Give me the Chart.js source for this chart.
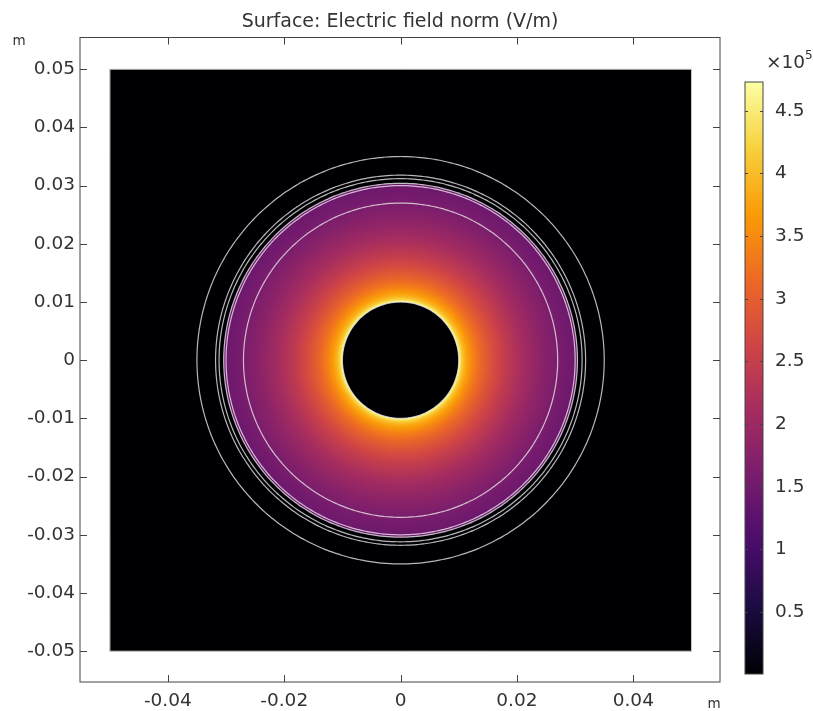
<!DOCTYPE html>
<html>
<head>
<meta charset="utf-8">
<style>
html, body { margin: 0; padding: 0; background: #fff; }
#wrap { position: relative; width: 813px; height: 711px; overflow: hidden; }
canvas { position: absolute; top: 0; }
#plot { left: 0; }
#bar { left: 700px; }
</style>
<script src="https://cdn.jsdelivr.net/npm/chart.js@4/dist/chart.umd.js"></script>
</head>
<body>
<div id="wrap">
<canvas id="plot" width="813" height="711"></canvas>
<canvas id="bar" width="113" height="711"></canvas>
</div>
<script>
const titleText = 'Surface: Electric field norm (V/m)';
const xTickValues = [-0.04, -0.02, 0, 0.02, 0.04];
const yTickValues = [-0.05, -0.04, -0.03, -0.02, -0.01, 0, 0.01, 0.02, 0.03, 0.04, 0.05];
const barTickValues = [0.5, 1, 1.5, 2, 2.5, 3, 3.5, 4, 4.5];

// geometry of the model, metres
const ringRadii = [0.01, 0.027, 0.03, 0.0304, 0.0312, 0.0318, 0.035];
const domainCorners = [[-0.05, -0.05], [0.05, -0.05], [0.05, 0.05], [-0.05, 0.05], [-0.05, -0.05]];
const holeRadius = 0.01;

// field norm along a radius, in 1e5 V/m
const fieldRadii = [0.0100, 0.0105, 0.0110, 0.0115, 0.0120, 0.0125, 0.0130, 0.0135, 0.0140, 0.0145, 0.0150,
    0.0155, 0.0160, 0.0165, 0.0170, 0.0175, 0.0180, 0.0185, 0.0190, 0.0195, 0.0200,
    0.0205, 0.0210, 0.0215, 0.0220, 0.0225, 0.0230, 0.0235, 0.0240, 0.0245, 0.0250,
    0.0255, 0.0260, 0.0265, 0.0270, 0.0275, 0.0280, 0.0285, 0.0290, 0.0295, 0.0300, 0.0304];
const fieldValues = [4.70, 4.20, 3.90, 3.72, 3.56, 3.42, 3.30, 3.19, 3.09, 3.00, 2.91,
    2.83, 2.75, 2.67, 2.60, 2.53, 2.46, 2.40, 2.34, 2.28, 2.22,
    2.16, 2.11, 2.06, 2.01, 1.96, 1.92, 1.87, 1.83, 1.79, 1.75,
    1.71, 1.68, 1.64, 1.61, 1.58, 1.55, 1.52, 1.50, 1.48, 1.46, 1.44];

const barMin = 0.005;
const barMax = 4.73;
const colorStops = ['#000004', '#1b0c41', '#4a0c6b', '#781c6d', '#a52c60', '#cf4446', '#ed6925', '#fb9b06', '#f7d13d', '#fcffa4'];

const textColor = '#333';
const frameColor = '#444';
const ringColor = 'rgba(235,235,235,0.78)';
const tickFont = { family: 'DejaVu Sans', size: 18.5 };

function hexToRgb(hex) {
    return [1, 3, 5].map(i => parseInt(hex.substr(i, 2), 16));
}

function colorFor(value) {
    const t = Math.min(1, Math.max(0, (value - barMin) / (barMax - barMin))) * (colorStops.length - 1);
    const i = Math.min(colorStops.length - 2, Math.floor(t));
    const a = hexToRgb(colorStops[i]);
    const b = hexToRgb(colorStops[i + 1]);
    const c = a.map((v, k) => Math.round(v + (b[k] - v) * (t - i)));
    return 'rgb(' + c.join(',') + ')';
}

function circlePoints(r) {
    const pts = [];
    for (let deg = 0; deg <= 360; deg += 1) {
        const a = deg * Math.PI / 180;
        pts.push({ x: r * Math.cos(a), y: r * Math.sin(a) });
    }
    return pts;
}

function fieldGradient(chart) {
    const sx = chart.scales.x;
    const sy = chart.scales.y;
    const cx = sx.getPixelForValue(0);
    const cy = sy.getPixelForValue(0);
    const rPx = r => sx.getPixelForValue(r) - cx;
    const inner = fieldRadii[0];
    const outer = fieldRadii[fieldRadii.length - 1];
    const g = chart.ctx.createRadialGradient(cx, cy, rPx(inner), cx, cy, rPx(outer));
    fieldRadii.forEach((r, i) => {
        g.addColorStop((r - inner) / (outer - inner), colorFor(fieldValues[i]));
    });
    return g;
}

function barGradient(chart) {
    const s = chart.scales.y;
    const g = chart.ctx.createLinearGradient(0, s.getPixelForValue(barMin), 0, s.getPixelForValue(barMax));
    const steps = 60;
    for (let i = 0; i <= steps; i++) {
        g.addColorStop(i / steps, colorFor(barMin + (barMax - barMin) * i / steps));
    }
    return g;
}

// first dataset is on top, so rings go first and the black square last
// tension keeps chart.js off its fast path, which makes steep arcs jagged
const plotDatasets = ringRadii.map(r => ({
    data: circlePoints(r),
    showLine: true,
    borderColor: ringColor,
    borderWidth: 1.2,
    pointRadius: 0,
    fill: false,
    tension: 0.4
}));
plotDatasets.push({
    data: circlePoints(holeRadius),
    showLine: true,
    borderWidth: 0,
    pointRadius: 0,
    fill: 'shape',
    tension: 0.4,
    backgroundColor: '#000004'
});
const fieldDataset = {
    data: circlePoints(fieldRadii[fieldRadii.length - 1]),
    showLine: true,
    borderWidth: 0,
    pointRadius: 0,
    fill: 'shape',
    tension: 0.4,
    backgroundColor: '#781c6d'
};
plotDatasets.push(fieldDataset);
plotDatasets.push({
    data: domainCorners.map(c => ({ x: c[0], y: c[1] })),
    showLine: true,
    borderColor: '#c8c8c8',
    borderWidth: 1,
    pointRadius: 0,
    fill: 'shape',
    backgroundColor: '#000004'
});

// ticks sit inside the frame on every side
function innerTicks(ctx, area, xScale, xVals, yScale, yVals, len) {
    ctx.save();
    ctx.strokeStyle = frameColor;
    ctx.lineWidth = 1;
    ctx.beginPath();
    if (xScale) {
        xVals.forEach(v => {
            const x = Math.round(xScale.getPixelForValue(v)) + 0.5;
            ctx.moveTo(x, area.top);
            ctx.lineTo(x, area.top + len);
            ctx.moveTo(x, area.bottom);
            ctx.lineTo(x, area.bottom - len);
        });
    }
    yVals.forEach(v => {
        const y = Math.round(yScale.getPixelForValue(v)) + 0.5;
        ctx.moveTo(area.left, y);
        ctx.lineTo(area.left + len, y);
        ctx.moveTo(area.right, y);
        ctx.lineTo(area.right - len, y);
    });
    ctx.stroke();
    ctx.strokeRect(area.left, area.top, area.right - area.left, area.bottom - area.top);
    ctx.restore();
}

const plotDecor = {
    id: 'plotDecor',
    afterLayout(chart) {
        fieldDataset.backgroundColor = fieldGradient(chart);
    },
    afterDraw(chart) {
        const ctx = chart.ctx;
        innerTicks(ctx, chart.chartArea, chart.scales.x, xTickValues, chart.scales.y, yTickValues, 7);
        ctx.save();
        ctx.fillStyle = textColor;
        ctx.font = '13.5px "DejaVu Sans"';
        ctx.textAlign = 'center';
        ctx.textBaseline = 'middle';
        ctx.fillText('m', 19, 41);
        ctx.fillText('m', 714, 704);
        ctx.restore();
    }
};

const barDecor = {
    id: 'barDecor',
    afterLayout(chart) {
        chart.data.datasets[0].backgroundColor = barGradient(chart);
    },
    afterDraw(chart) {
        const ctx = chart.ctx;
        innerTicks(ctx, chart.chartArea, null, [], chart.scales.y, barTickValues, 3);
        ctx.save();
        ctx.fillStyle = textColor;
        ctx.textBaseline = 'alphabetic';
        ctx.font = '18.5px "DejaVu Sans"';
        ctx.fillText('\u00d710', 66, 68);
        ctx.font = '12px "DejaVu Sans"';
        ctx.fillText('5', 105, 59);
        ctx.restore();
    }
};

new Chart(document.getElementById('plot').getContext('2d'), {
    type: 'scatter',
    data: { datasets: plotDatasets },
    plugins: [plotDecor],
    options: {
        responsive: false,
        animation: false,
        layout: { padding: { top: 0, right: 93, left: 0, bottom: 0 } },
        plugins: {
            legend: { display: false },
            tooltip: { enabled: false },
            title: {
                display: true,
                text: titleText,
                color: textColor,
                fullSize: false,
                font: { family: 'DejaVu Sans', size: 19, weight: 'normal' },
                padding: { top: 10.5, bottom: 4.2 }
            }
        },
        scales: {
            x: {
                type: 'linear',
                min: -0.0551,
                max: 0.0549,
                grid: { display: false, drawTicks: false },
                border: { display: false },
                afterFit(scale) { scale.height = 29; },
                afterBuildTicks(scale) { scale.ticks = xTickValues.map(v => ({ value: v })); },
                ticks: {
                    color: textColor,
                    font: tickFont,
                    padding: 8,
                    maxRotation: 0,
                    autoSkip: false,
                    callback: v => String(v)
                }
            },
            y: {
                type: 'linear',
                min: -0.05529,
                max: 0.05545,
                grid: { display: false, drawTicks: false },
                border: { display: false },
                afterFit(scale) { scale.width = 80; },
                afterBuildTicks(scale) { scale.ticks = yTickValues.map(v => ({ value: v })); },
                ticks: {
                    color: textColor,
                    font: tickFont,
                    padding: 5,
                    autoSkip: false,
                    callback: v => String(v)
                }
            }
        }
    }
});

new Chart(document.getElementById('bar').getContext('2d'), {
    type: 'bar',
    data: {
        labels: ['norm'],
        datasets: [{
            data: [[barMin, barMax]],
            backgroundColor: '#781c6d',
            borderWidth: 0,
            barPercentage: 1,
            categoryPercentage: 1
        }]
    },
    plugins: [barDecor],
    options: {
        responsive: false,
        animation: false,
        layout: { padding: { top: 82, right: 0, left: 45, bottom: 37 } },
        plugins: { legend: { display: false }, tooltip: { enabled: false } },
        scales: {
            x: { display: false },
            y: {
                position: 'right',
                min: barMin,
                max: barMax,
                grid: { display: false, drawTicks: false },
                border: { display: false },
                afterFit(scale) { scale.width = 50; },
                afterBuildTicks(scale) { scale.ticks = barTickValues.map(v => ({ value: v })); },
                ticks: {
                    color: textColor,
                    font: tickFont,
                    padding: 12,
                    autoSkip: false,
                    callback: v => String(v)
                }
            }
        }
    }
});
</script>
</body>
</html>
